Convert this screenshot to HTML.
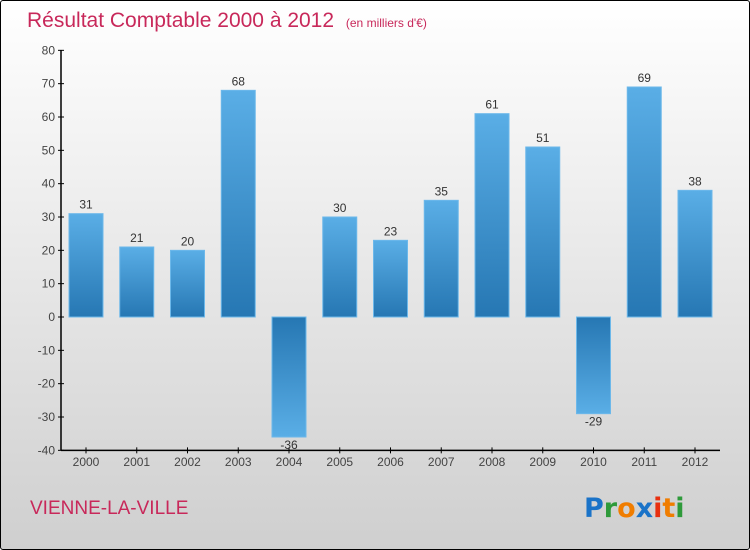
<!DOCTYPE html>
<html><head><meta charset="utf-8"><style>
body{margin:0;width:750px;height:550px;overflow:hidden;font-family:"Liberation Sans",sans-serif}
#wrap{position:absolute;left:0;top:0;width:748px;height:548px;border:1px solid #000;border-radius:3px;background:linear-gradient(#ffffff,#cfcfcf)}
</style></head><body>
<div id="wrap">
<svg width="750" height="550" style="position:absolute;left:-1px;top:-1px">
<defs>
<linearGradient id="gp" x1="0" y1="0" x2="0" y2="1"><stop offset="0" stop-color="#5aaee6"/><stop offset="1" stop-color="#2677b3"/></linearGradient>
<linearGradient id="gn" x1="0" y1="0" x2="0" y2="1"><stop offset="0" stop-color="#2677b3"/><stop offset="1" stop-color="#5aaee6"/></linearGradient>
</defs>
<text x="27" y="27" font-size="21" fill="#c8285a">Résultat Comptable 2000 à 2012 <tspan font-size="12" dx="6">(en milliers d'€)</tspan></text>
<g id="axes"></g><g id="bars"></g>
<text x="30" y="514" font-size="19" fill="#c8285a">VIENNE-LA-VILLE</text>
<g font-size="27" font-weight="bold" font-family="'DejaVu Sans',sans-serif">
<text x="584" y="517"><tspan fill="#1a73c8">P</tspan><tspan fill="#2e9a3a">r</tspan><tspan fill="#f07d00">o</tspan><tspan fill="#1a73c8">x</tspan><tspan fill="#e83010">i</tspan><tspan fill="#f07d00">t</tspan><tspan fill="#2e9a3a">i</tspan></text>
</g>
</svg></div>
<script>
const years=["2000","2001","2002","2003","2004","2005","2006","2007","2008","2009","2010","2011","2012"];
const values=[31,21,20,68,-36,30,23,35,61,51,-29,69,38];
const yTicks=[80,70,60,50,40,30,20,10,0,-10,-20,-30,-40];
const NS="http://www.w3.org/2000/svg";
const y0=317,ppu=400/120;
const Y=v=>y0-v*ppu;
const X=i=>86+i*50.75;
function mk(t,a,p){const e=document.createElementNS(NS,t);for(const k in a)e.setAttribute(k,a[k]);p.appendChild(e);return e;}
const ax=document.getElementById('axes'),bg=document.getElementById('bars');
const yl=mk('line',{x1:61,y1:Y(80),x2:61,y2:Y(-40),stroke:'#000','stroke-width':1.5},ax);


const xl=mk('line',{x1:61,y1:Y(-40),x2:720,y2:Y(-40),stroke:'#000','stroke-width':1.5},ax);


yTicks.forEach(v=>{
 mk('line',{x1:58,y1:Y(v),x2:64,y2:Y(v),stroke:'#000'},ax);
 const t=mk('text',{x:55,y:Y(v)+4,'text-anchor':'end','font-size':12,fill:'#444'},ax);
 t.textContent=v<0?'-'+(-v):v;
 
 
});
years.forEach((yr,i)=>{
 const x=X(i),v=values[i];
 mk('line',{x1:x,y1:Y(-40)-3,x2:x,y2:Y(-40)+3,stroke:'#000'},ax);
 const t=mk('text',{x:x,y:466,'text-anchor':'middle','font-size':12,fill:'#444'},ax);
 t.textContent=yr;
 
 
 const top=Math.min(Y(v),y0),h=Math.abs(Y(v)-y0);
 const r=mk('rect',{x:x-17,y:top,width:34,height:h,fill:v>=0?'url(#gp)':'url(#gn)',stroke:'#6cb8ea','stroke-width':1},bg);
 
 
 const l=mk('text',{x:x,y:v>=0?Y(v)-5:Y(v)+12,'text-anchor':'middle','font-size':12,fill:'#333'},bg);
 l.textContent=v;
 
 
});
</script>
</body></html>
